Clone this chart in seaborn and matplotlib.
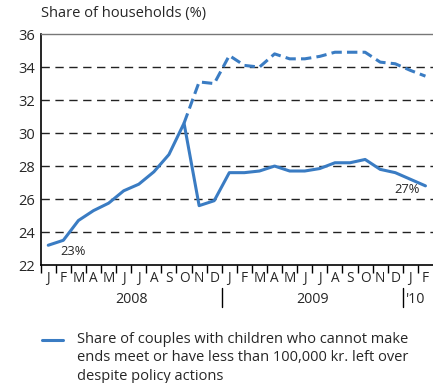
import matplotlib
matplotlib.use("Agg")
import matplotlib.pyplot as plt
import seaborn as sns
import pandas as pd
import numpy as np

# Monthly observations, Jan 2008 - Feb 2010
months = ["J", "F", "M", "A", "M", "J", "J", "A", "S", "O", "N", "D",
          "J", "F", "M", "A", "M", "J", "J", "A", "S", "O", "N", "D",
          "J", "F"]
with_policy = [23.2, 23.5, 24.7, 25.3, 25.75, 26.5, 26.9, 27.65, 28.7, 30.6, 25.6, 25.9,
               27.6, 27.6, 27.7, 28.0, 27.7, 27.7, 27.85, 28.2, 28.2, 28.4, 27.8, 27.6,
               27.2, 26.8]
# Counterfactual path without policy actions, from Oct 2008 onwards
without_policy = [30.6, 33.1, 33.0,
                  34.7, 34.1, 34.0, 34.8, 34.5, 34.5, 34.65, 34.9, 34.9, 34.9, 34.3, 34.2,
                  33.8, 33.45]
without_start = 9
years = ["2008", "2009", "'10"]
year_months = [12, 12, 2]
legend_text = ("Share of couples with children who cannot make\n"
               "ends meet or have less than 100,000 kr. left over\n"
               "despite policy actions")

sns.set_theme(style="white")
plt.rcParams["font.family"] = ["Open Sans", "DejaVu Sans"]

blue = "#3a7cc3"
df_a = pd.DataFrame({"m": np.arange(len(with_policy)), "v": with_policy})
df_b = pd.DataFrame({"m": np.arange(without_start, without_start + len(without_policy)),
                     "v": without_policy})

fig = plt.figure(figsize=(4.33, 3.83), dpi=100)
ax = fig.add_axes([0.094, 0.308, 0.906, 0.603])

for y in range(24, 36, 2):
    ax.axhline(y, color="#222222", lw=1.0, ls=(0, (6, 4)), zorder=1)

sns.lineplot(data=df_b, x="m", y="v", ax=ax, color=blue, lw=2.2,
             linestyle=(0, (3.4, 1.7)), zorder=3)
sns.lineplot(data=df_a, x="m", y="v", ax=ax, color=blue, lw=2.2, zorder=4)

ax.set_xlim(-0.5, len(months) - 0.5)
ax.set_ylim(22, 36)
ax.set_yticks(range(22, 37, 2))
ax.set_yticklabels([str(v) for v in range(22, 37, 2)], fontsize=10.5)
ax.set_xticks(np.arange(len(months)))
ax.set_xticklabels(months, fontsize=9.8)
ax.set_xticks(np.arange(len(months)) - 0.5, minor=True)
ax.tick_params(axis="x", which="major", bottom=True, length=0, pad=4)
ax.tick_params(axis="x", which="minor", bottom=True, length=6, width=1.0,
               color="black", direction="out")
ax.tick_params(axis="y", length=0, pad=4)
ax.set_xlabel("")
ax.set_ylabel("")

for side in ["left", "bottom"]:
    ax.spines[side].set_color("black")
    ax.spines[side].set_linewidth(1.2)
ax.spines["top"].set_color("#777777")
ax.spines["top"].set_linewidth(1.0)
ax.spines["right"].set_visible(False)

# Year labels and separators under the month axis
trans = ax.get_xaxis_transform()
start = -0.5
for yr, n in zip(years, year_months):
    center = start + n / 2
    if yr == "'10":
        ax.text(start + 0.2, -0.15, yr, transform=trans, ha="left", va="center",
                fontsize=10.3)
    else:
        ax.text(center, -0.15, yr, transform=trans, ha="center", va="center",
                fontsize=10.3)
    if start > -0.5:
        ax.plot([start, start], [-0.10, -0.18], transform=trans, color="black",
                lw=1.0, clip_on=False)
    start += n

ax.text(0.8, 22.85, "23%", fontsize=9.3, ha="left", va="center")
ax.text(24.65, 26.55, "27%", fontsize=9.3, ha="right", va="center")

fig.text(0.094, 0.945, "Share of households (%)", fontsize=10.5, ha="left", va="bottom")

# Legend entry
fig.add_artist(plt.Line2D([0.097, 0.145], [0.112, 0.112], color=blue, lw=2.2))
fig.text(0.178, 0.134, legend_text, fontsize=10.5, ha="left", va="top",
         linespacing=1.33)

fig.savefig("out.png", dpi=100)
